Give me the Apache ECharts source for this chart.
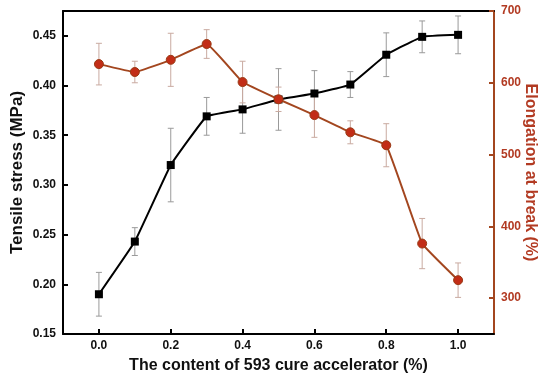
<!DOCTYPE html>
<html>
<head>
<meta charset="utf-8">
<script src="https://cdn.jsdelivr.net/npm/echarts@6/dist/echarts.min.js"></script>
<style>html,body{margin:0;padding:0;background:#fff;}#c{width:550px;height:384px;}</style>
</head>
<body>
<div id="c"></div>
<script>
var xValues = [0.0, 0.1, 0.2, 0.3, 0.4, 0.5, 0.6, 0.7, 0.8, 0.9, 1.0];
var tensile = [0.190, 0.243, 0.320, 0.369, 0.376, 0.386, 0.392, 0.401, 0.431, 0.449, 0.451];
var tensileErr = [0.022, 0.014, 0.037, 0.019, 0.024, 0.031, 0.023, 0.013, 0.022, 0.016, 0.019];
var elongation = [626, 615, 632, 654, 601, 577, 555, 531, 513, 376, 325];
var elongationErr = [29, 15, 37, 20, 29, 17, 31, 16, 30, 35, 24];
var xTicks = [0.0, 0.2, 0.4, 0.6, 0.8, 1.0];
var leftTicks = [0.15, 0.20, 0.25, 0.30, 0.35, 0.40, 0.45];
var rightTicks = [300, 400, 500, 600, 700];

var FONT = '"Liberation Sans", Arial, sans-serif';
var BROWN = '#a3461f';
var REDTXT = '#b23a22';

function pairs(xs, ys) { return xs.map(function (x, i) { return [x, ys[i]]; }); }
function errData(xs, ys, es) { return xs.map(function (x, i) { return [x, ys[i] - es[i], ys[i] + es[i]]; }); }

function errRender(color) {
  return function (params, api) {
    var lo = api.coord([api.value(0), api.value(1)]);
    var hi = api.coord([api.value(0), api.value(2)]);
    var w = 3;
    var st = { stroke: color, lineWidth: 1 };
    return {
      type: 'group',
      children: [
        { type: 'line', shape: { x1: lo[0], y1: lo[1], x2: hi[0], y2: hi[1] }, style: st },
        { type: 'line', shape: { x1: lo[0] - w, y1: lo[1], x2: lo[0] + w, y2: lo[1] }, style: st },
        { type: 'line', shape: { x1: hi[0] - w, y1: hi[1], x2: hi[0] + w, y2: hi[1] }, style: st }
      ]
    };
  };
}

var chart = echarts.init(document.getElementById('c'), null, { renderer: 'canvas' });
chart.setOption({
  animation: false,
  backgroundColor: '#fff',
  grid: { left: 63, right: 56, top: 11, bottom: 50, containLabel: false, outerBoundsMode: 'none' },
  xAxis: [{
    type: 'value', min: -0.1, max: 1.1, position: 'bottom',
    name: 'The content of 593 cure accelerator (%)', nameLocation: 'middle', nameGap: 24, nameMoveOverlap: false,
    nameTextStyle: { fontFamily: FONT, fontWeight: 'bold', fontSize: 16, color: '#111' },
    axisLine: { show: true, lineStyle: { color: '#000', width: 2 } },
    axisTick: { show: true, inside: true, length: 5, customValues: xTicks, lineStyle: { color: '#000', width: 2 } },
    axisLabel: { customValues: xTicks, fontFamily: FONT, fontWeight: 'bold', fontSize: 12, color: '#111', margin: 6,
      formatter: function (v) { return v.toFixed(1); } },
    splitLine: { show: false }
  }, {
    type: 'value', min: -0.1, max: 1.1, position: 'top',
    axisLine: { show: true, onZero: false, lineStyle: { color: '#000', width: 2 } },
    axisTick: { show: false }, axisLabel: { show: false }, splitLine: { show: false }
  }],
  yAxis: [{
    type: 'value', min: 0.15, max: 0.475, position: 'left',
    name: 'Tensile stress (MPa)', nameLocation: 'middle', nameGap: 37, nameRotate: 90, nameMoveOverlap: false,
    nameTextStyle: { fontFamily: FONT, fontWeight: 'bold', fontSize: 17, color: '#111' },
    axisLine: { show: true, onZero: false, lineStyle: { color: '#000', width: 2 } },
    axisTick: { show: true, inside: true, length: 5, customValues: leftTicks, lineStyle: { color: '#000', width: 2 } },
    axisLabel: { customValues: leftTicks, fontFamily: FONT, fontWeight: 'bold', fontSize: 12, color: '#111', margin: 7,
      formatter: function (v) { return v.toFixed(2); } },
    splitLine: { show: false }
  }, {
    type: 'value', min: 250, max: 700, position: 'right',
    name: 'Elongation at break (%)', nameLocation: 'middle', nameGap: 28, nameRotate: -90, nameMoveOverlap: false,
    nameTextStyle: { fontFamily: FONT, fontWeight: 'bold', fontSize: 16, color: REDTXT },
    axisLine: { show: true, onZero: false, lineStyle: { color: BROWN, width: 2 } },
    axisTick: { show: true, inside: true, length: 5, customValues: rightTicks, lineStyle: { color: BROWN, width: 2 } },
    axisLabel: { customValues: rightTicks, fontFamily: FONT, fontWeight: 'bold', fontSize: 12, color: REDTXT, margin: 7 },
    splitLine: { show: false }
  }],
  series: [{
    type: 'custom', xAxisIndex: 0, yAxisIndex: 0, z: 1,
    renderItem: errRender('#9a9a9a'),
    encode: { x: 0, y: [1, 2] },
    data: errData(xValues, tensile, tensileErr)
  }, {
    type: 'custom', xAxisIndex: 0, yAxisIndex: 1, z: 1,
    renderItem: errRender('#c9aaa0'),
    encode: { x: 0, y: [1, 2] },
    data: errData(xValues, elongation, elongationErr)
  }, {
    type: 'line', xAxisIndex: 0, yAxisIndex: 0, z: 3,
    data: pairs(xValues, tensile), smooth: 0.08,
    symbol: 'rect', symbolSize: 8,
    lineStyle: { color: '#000', width: 2 },
    itemStyle: { color: '#000' }
  }, {
    type: 'line', xAxisIndex: 0, yAxisIndex: 1, z: 4,
    data: pairs(xValues, elongation), smooth: 0.08,
    symbol: 'circle', symbolSize: 9,
    lineStyle: { color: BROWN, width: 2 },
    itemStyle: { color: '#c22d17', borderColor: '#9a3a15', borderWidth: 1 }
  }]
});
</script>
</body>
</html>
